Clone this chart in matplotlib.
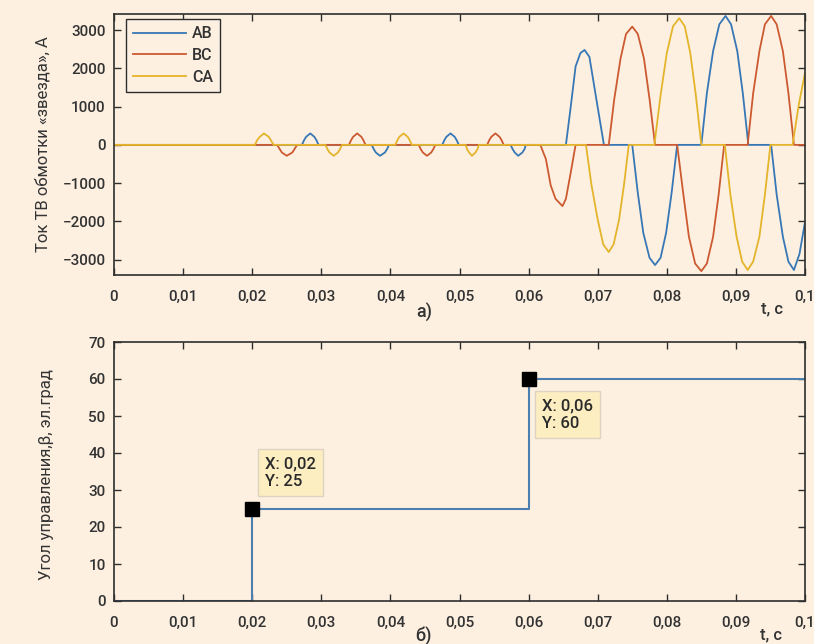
import matplotlib
matplotlib.use("Agg")
import matplotlib.pyplot as plt

plt.rcParams['font.family'] = ['Roboto', 'DejaVu Sans']
plt.rcParams['font.weight'] = 'medium'

# ---------------- data ----------------
# Phase AB current (blue)
t_ab = [0, 0.0272, 0.0275, 0.0278, 0.0284, 0.0290, 0.0293, 0.0296,
        0.0373, 0.0376, 0.0379, 0.0385, 0.0392, 0.0395, 0.0398,
        0.0475, 0.0478, 0.0481, 0.0487, 0.0493, 0.0496, 0.0499,
        0.0574, 0.0577, 0.0580, 0.0585, 0.0591, 0.0594, 0.0596,
        0.0654, 0.0661, 0.0668, 0.0675, 0.0681, 0.0688, 0.0698, 0.0709,
        0.0750, 0.0758, 0.0766, 0.0775, 0.0783, 0.0791, 0.0799, 0.0807, 0.0815,
        0.0850, 0.0858, 0.0867, 0.0876, 0.0885, 0.0893, 0.0902, 0.0910, 0.0918,
        0.0951, 0.0959, 0.0968, 0.0976, 0.0984, 0.0992, 0.1000]
i_ab = [0, 0, 120, 210, 300, 210, 120, 0,
        0, -115, -200, -285, -200, -115, 0,
        0, 120, 210, 300, 210, 120, 0,
        0, -115, -200, -285, -200, -115, 0,
        0, 1000, 2050, 2400, 2480, 2300, 1200, 0,
        0, -1250, -2300, -2950, -3140, -2950, -2300, -1250, 0,
        0, 1350, 2450, 3150, 3370, 3150, 2450, 1350, 0,
        0, -1300, -2400, -3050, -3270, -2850, -2020]

# Phase BC current (red)
t_bc = [0, 0.0236, 0.0240, 0.0243, 0.0250, 0.0258, 0.0261, 0.0265,
        0.0340, 0.0343, 0.0346, 0.0352, 0.0358, 0.0361, 0.0364,
        0.0441, 0.0444, 0.0447, 0.0453, 0.0459, 0.0462, 0.0465,
        0.0540, 0.0543, 0.0546, 0.0552, 0.0558, 0.0561, 0.0564,
        0.0617, 0.0625, 0.0632, 0.0639, 0.0649, 0.0654, 0.0661, 0.0668,
        0.0716, 0.0724, 0.0733, 0.0741, 0.0750, 0.0758, 0.0767, 0.0775, 0.0783,
        0.0815, 0.0824, 0.0832, 0.0841, 0.0850, 0.0858, 0.0867, 0.0875, 0.0883,
        0.0917, 0.0925, 0.0934, 0.0942, 0.0951, 0.0959, 0.0968, 0.0976, 0.0984, 0.1000]
i_bc = [0, 0, -115, -200, -285, -200, -115, 0,
        0, 120, 210, 300, 210, 120, 0,
        0, -115, -200, -285, -200, -115, 0,
        0, 120, 210, 300, 210, 120, 0,
        0, -370, -1060, -1410, -1600, -1410, -720, 0,
        0, 1200, 2250, 2900, 3090, 2900, 2250, 1200, 0,
        0, -1300, -2400, -3100, -3300, -3100, -2400, -1300, 0,
        0, 1350, 2450, 3150, 3370, 3150, 2450, 1350, 0, 0]

# Phase CA current (yellow)
t_ca = [0, 0.0204, 0.0207, 0.0211, 0.0217, 0.0224, 0.0227, 0.0231,
        0.0306, 0.0309, 0.0312, 0.0318, 0.0324, 0.0327, 0.0330,
        0.0407, 0.0410, 0.0413, 0.0419, 0.0425, 0.0428, 0.0431,
        0.0509, 0.0511, 0.0514, 0.0518, 0.0523, 0.0526, 0.0528,
        0.0683, 0.0691, 0.0700, 0.0708, 0.0716, 0.0723, 0.0731, 0.0738, 0.0745,
        0.0782, 0.0791, 0.0800, 0.0809, 0.0818, 0.0826, 0.0834, 0.0842, 0.0850,
        0.0884, 0.0892, 0.0901, 0.0909, 0.0917, 0.0925, 0.0934, 0.0942, 0.0950,
        0.0982, 0.0991, 0.1000]
i_ca = [0, 0, 120, 210, 300, 210, 120, 0,
        0, -115, -200, -285, -200, -115, 0,
        0, 120, 210, 300, 210, 120, 0,
        0, -115, -200, -285, -200, -115, 0,
        0, -1050, -1950, -2600, -2800, -2600, -1950, -1050, 0,
        0, 1300, 2400, 3100, 3310, 3100, 2400, 1300, 0,
        0, -1300, -2400, -3050, -3270, -3050, -2400, -1300, 0,
        0, 1050, 1880]

series_names = ['AB', 'BC', 'CA']

# Control angle (step)
t_angle = [0, 0.02, 0.06, 0.1]
angle = [0, 25, 60, 60]
tip_x = [0.02, 0.06]
tip_y = [25, 60]
tip_labels = ['X: 0,02\nY: 25', 'X: 0,06\nY: 60']

x_ticks = [0, 0.01, 0.02, 0.03, 0.04, 0.05, 0.06, 0.07, 0.08, 0.09, 0.1]
x_tick_labels = ['0', '0,01', '0,02', '0,03', '0,04', '0,05', '0,06',
                 '0,07', '0,08', '0,09', '0,1']
y1_ticks = [-3000, -2000, -1000, 0, 1000, 2000, 3000]
y1_tick_labels = ['\u22123000', '\u22122000', '\u22121000', '0', '1000', '2000', '3000']
y2_ticks = [0, 10, 20, 30, 40, 50, 60, 70]
y2_tick_labels = ['0', '10', '20', '30', '40', '50', '60', '70']

# ---------------- style ----------------
BG = '#fdf0e1'
TXT = '#333333'
SPINE = '#2e2e2e'
C_AB = '#3777b5'
C_BC = '#cc5a30'
C_CA = '#e4b42a'

W, H = 814, 644
fig = plt.figure(figsize=(W / 100, H / 100), dpi=100, facecolor=BG)


def px_axes(left, top, right, bottom):
    return fig.add_axes([left / W, 1 - bottom / H, (right - left) / W, (bottom - top) / H])


def style(ax):
    ax.set_facecolor(BG)
    for s in ax.spines.values():
        s.set_color(SPINE)
        s.set_linewidth(1.2)
    ax.tick_params(direction='in', top=True, right=True, length=5, width=1,
                   color=SPINE, labelcolor=TXT, labelsize=11)
    ax.tick_params(axis='x', pad=11)
    ax.tick_params(axis='y', pad=6)
    ax.set_xlim(0, 0.1)
    ax.set_xticks(x_ticks)
    ax.set_xticklabels(x_tick_labels)


# ---- top panel ----
ax1 = px_axes(114, 14, 805, 275)
style(ax1)
ax1.plot(t_ab, i_ab, color=C_AB, lw=1.3, label=series_names[0])
ax1.plot(t_bc, i_bc, color=C_BC, lw=1.3, label=series_names[1])
ax1.plot(t_ca, i_ca, color=C_CA, lw=1.3, label=series_names[2])
ax1.set_ylim(-3400, 3420)
ax1.set_yticks(y1_ticks)
ax1.set_yticklabels(y1_tick_labels)
ax1.set_ylabel('Ток ТВ обмотки «звезда», А', fontsize=12, color=TXT)
ax1.yaxis.set_label_coords(-0.092, 0.5)
leg = ax1.legend(loc='upper left', bbox_to_anchor=(12 / 691, 1 - 5 / 261),
                 borderaxespad=0, fancybox=False, frameon=True, fontsize=11.5,
                 handlelength=3.3, labelspacing=0.42, borderpad=0.45,
                 handletextpad=0.4)
leg.get_frame().set_edgecolor(SPINE)
leg.get_frame().set_facecolor(BG)
leg.get_frame().set_linewidth(1.0)
leg.get_frame().set_alpha(1)
for t in leg.get_texts():
    t.set_color(TXT)

# ---- bottom panel ----
ax2 = px_axes(114, 342, 805, 601)
style(ax2)
ax2.plot(t_angle, angle, drawstyle='steps-post', color='#4a7fb0', lw=1.5)
ax2.plot(tip_x, tip_y, ls='none', marker='s', ms=9.5, color='black', zorder=5)
ax2.set_ylim(0, 70)
ax2.set_yticks(y2_ticks)
ax2.set_yticklabels(y2_tick_labels)
ax2.set_ylabel('Угол управления,β, эл.град', fontsize=12, color=TXT)
ax2.yaxis.set_label_coords(-0.087, 0.49)

# data tips
tip_pos = [(0.0219, 34.7), (0.0620, 50.4)]
for (x, y), lab in zip(tip_pos, tip_labels):
    ax2.text(x, y, lab, ha='left', va='center', fontsize=12, color='#2a2a2a',
             fontweight='medium', linespacing=1.25, zorder=6,
             bbox=dict(boxstyle='square,pad=0.42', facecolor='#fdeec2',
                       edgecolor='#ddd3c0', linewidth=1.0))

# panel captions and axis names
fig.text(424 / W, 1 - 312 / H, 'а)', ha='center', va='center', fontsize=13, color=TXT)
fig.text(772 / W, 1 - 309 / H, 't, с', ha='center', va='center', fontsize=12, color=TXT)
fig.text(424 / W, 1 - 636 / H, 'б)', ha='center', va='center', fontsize=13, color=TXT)
fig.text(771 / W, 1 - 635 / H, 't, с', ha='center', va='center', fontsize=12, color=TXT)

fig.savefig('out.png', dpi=100, facecolor=BG)
